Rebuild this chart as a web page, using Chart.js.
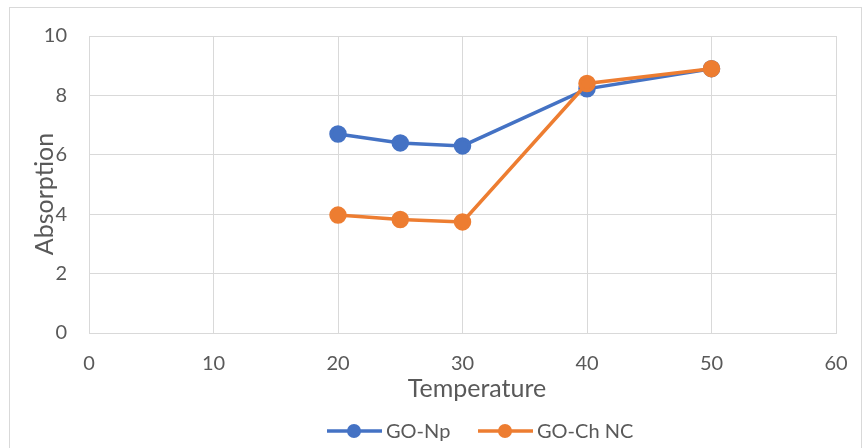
<!DOCTYPE html>
<html>
<head>
<meta charset="utf-8">
<script src="https://cdn.jsdelivr.net/npm/chart.js@4/dist/chart.umd.min.js"></script>
<style>
  html, body { margin: 0; padding: 0; background: #fff; }
  #wrap { width: 864px; height: 448px; position: relative; }
</style>
</head>
<body>
<div id="wrap"><canvas id="chart" width="864" height="448"></canvas></div>
<script>
const temperature = [20, 25, 30, 40, 50]
const goNp = [6.7, 6.4, 6.3, 8.22, 8.9]
const goChNc = [3.97, 3.82, 3.74, 8.4, 8.9]
const seriesNames = ["GO-Np", "GO-Ch NC"]
const seriesColors = ["#4472C4", "#ED7D31"]
const xTitle = "Temperature"
const yTitle = "Absorption"

const textColor = "#595959"
const gridColor = "#d9d9d9"
const fontFamily = "Lato, 'Liberation Sans', sans-serif"

const toPoints = ys => temperature.map((x, i) => ({ x: x, y: ys[i] }))

// frame, axis titles (Excel puts them a bit off-centre) and the legend
const extras = {
  id: "extras",
  afterDraw(chart) {
    const ctx = chart.ctx
    ctx.save()
    ctx.strokeStyle = gridColor
    ctx.lineWidth = 1
    ctx.strokeRect(9.5, 7.5, 852, 460)

    ctx.fillStyle = textColor
    ctx.textAlign = "center"
    ctx.textBaseline = "middle"
    ctx.font = "25px " + fontFamily
    ctx.fillText(xTitle, 477, 389)
    ctx.save()
    ctx.translate(45, 194)
    ctx.rotate(-Math.PI / 2)
    ctx.fillText(yTitle, 0, 0)
    ctx.restore()

    ctx.font = "20px " + fontFamily
    ctx.textAlign = "left"
    const y = 431
    const items = [
      { x: 327, name: seriesNames[0], color: seriesColors[0] },
      { x: 478, name: seriesNames[1], color: seriesColors[1] },
    ]
    items.forEach(it => {
      ctx.strokeStyle = it.color
      ctx.lineWidth = 3.5
      ctx.beginPath()
      ctx.moveTo(it.x, y)
      ctx.lineTo(it.x + 55, y)
      ctx.stroke()
      ctx.fillStyle = it.color
      ctx.beginPath()
      ctx.arc(it.x + 27, y, 7, 0, Math.PI * 2)
      ctx.fill()
      ctx.fillStyle = textColor
      ctx.fillText(it.name, it.x + 59, y + 1)
    })
    ctx.restore()
  },
}

new Chart(document.getElementById("chart"), {
  type: "scatter",
  data: {
    datasets: [
      {
        label: seriesNames[0],
        data: toPoints(goNp),
        showLine: true,
        borderColor: seriesColors[0],
        backgroundColor: seriesColors[0],
        borderWidth: 3.5,
        pointRadius: 7,
        pointHoverRadius: 7,
        order: 1,
      },
      {
        label: seriesNames[1],
        data: toPoints(goChNc),
        showLine: true,
        borderColor: seriesColors[1],
        backgroundColor: seriesColors[1],
        borderWidth: 3.5,
        pointRadius: 7,
        pointHoverRadius: 7,
        order: 0,
      },
    ],
  },
  options: {
    responsive: false,
    animation: false,
    layout: { padding: { top: 36, right: 28, left: 0, bottom: 0 } },
    plugins: {
      legend: { display: false },
      tooltip: { enabled: false },
    },
    scales: {
      x: {
        type: "linear",
        min: 0,
        max: 60,
        // invisible tick marks push the labels down without widening the right padding
        ticks: { stepSize: 10, color: textColor, font: { family: fontFamily, size: 20 }, padding: 0 },
        grid: { color: gridColor, drawTicks: true, tickLength: 19, tickColor: "rgba(0,0,0,0)" },
        border: { color: gridColor },
        afterFit(scale) { scale.height = 115 },
      },
      y: {
        min: 0,
        max: 10,
        ticks: { stepSize: 2, color: textColor, font: { family: fontFamily, size: 20 }, padding: 22 },
        grid: { color: gridColor, drawTicks: false },
        border: { display: false },
        afterFit(scale) { scale.width = 89 },
      },
    },
  },
  plugins: [extras],
})
</script>
</body>
</html>
